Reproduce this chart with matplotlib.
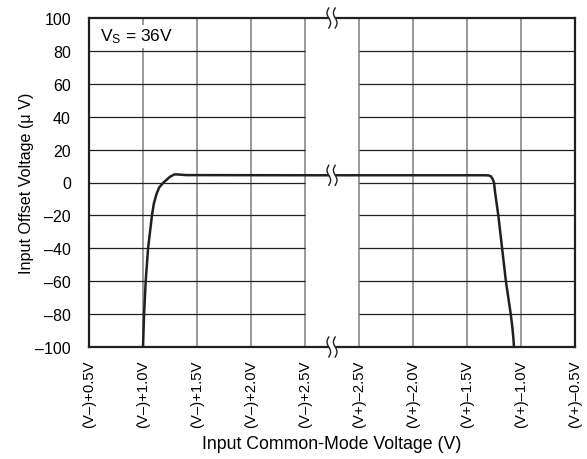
import numpy as np
import matplotlib
matplotlib.use("Agg")
import matplotlib.pyplot as plt

plt.rcParams["font.family"] = ["Liberation Sans", "DejaVu Sans"]
plt.rcParams["mathtext.fontset"] = "custom"
plt.rcParams["mathtext.rm"] = "Liberation Sans"
plt.rcParams["mathtext.it"] = "Liberation Sans"

# ── Data ───────────────────────────────────────────────────────────────────
# left half of the axis: input = (V-) + v ; right half: input = (V+) - v
LEFT_TICKS  = [0.5, 1.0, 1.5, 2.0, 2.5]
RIGHT_TICKS = [2.5, 2.0, 1.5, 1.0, 0.5]
LEFT_LABELS  = ["(V\u2013)+0.5V", "(V\u2013)+1.0V", "(V\u2013)+1.5V",
                "(V\u2013)+2.0V", "(V\u2013)+2.5V"]
RIGHT_LABELS = ["(V+)\u20132.5V", "(V+)\u20132.0V", "(V+)\u20131.5V",
                "(V+)\u20131.0V", "(V+)\u20130.5V"]

LEFT_V = [1.00, 1.01, 1.025, 1.047, 1.065, 1.083, 1.10, 1.125, 1.15, 1.19,
          1.25, 1.29, 1.32, 1.40, 2.5]
LEFT_Y = [-100, -80, -60, -40, -30, -20, -13, -7, -3, 0,
          3.5, 4.9, 4.9, 4.5, 4.4]

RIGHT_V = [2.5, 1.34, 1.30, 1.28, 1.265, 1.25, 1.24, 1.21, 1.175, 1.14,
           1.095, 1.08, 1.07, 1.065]
RIGHT_Y = [4.4, 4.4, 4.3, 3.8, 2.5, 0, -6, -20, -40, -60,
           -80, -88, -95, -100]

Y_TICKS = [-100, -80, -60, -40, -20, 0, 20, 40, 60, 80, 100]

# ── Broken axis mapping: each 0.5 V step = 1 unit, gap of 1 unit ─────────
def left_pos(v):
    return (np.asarray(v) - 0.5) / 0.5

def right_pos(v):
    return 5 + (2.5 - np.asarray(v)) / 0.5

fig = plt.figure(figsize=(5.87, 4.60), dpi=100)
ax = fig.add_axes([89 / 587, 1 - 348 / 460, 486 / 587, 329 / 460])
ax.set_xlim(0, 9)
ax.set_ylim(-100, 100)

GRID_V = "#808080"
GRID_H = "#231f20"
INK = "#231f20"

xticks = list(left_pos(LEFT_TICKS)) + list(right_pos(RIGHT_TICKS))
for xp in xticks[1:-1]:
    ax.axvline(xp, color=GRID_V, lw=1.1, zorder=1)
for yv in Y_TICKS[1:-1]:
    ax.hlines(yv, 0, 4, color=GRID_H, lw=0.9, zorder=1)
    ax.hlines(yv, 5, 9, color=GRID_H, lw=0.9, zorder=1)

xs = np.concatenate([left_pos(LEFT_V), right_pos(RIGHT_V)])
ys = np.concatenate([LEFT_Y, RIGHT_Y])
ax.plot(xs, ys, color=INK, lw=1.8, solid_joinstyle="round", zorder=3)

# break marks (two small squiggles) at top, curve and bottom
px_x = 9 / 486.0
px_y = 200 / 329.0
t = np.linspace(-1, 1, 40)
for y0 in [100, 4.4, -100]:
    sx1 = 4.5 - 3.2 * px_x + 1.8 * px_x * np.sin(np.pi * t)
    sx2 = 4.5 + 3.2 * px_x + 1.8 * px_x * np.sin(np.pi * t)
    sy = y0 - 10 * px_y * t
    ax.fill_betweenx(sy, sx1, sx2, color="white", lw=0, zorder=5,
                     clip_on=False)
    ax.plot(sx1, sy, color=INK, lw=1.0, zorder=6, clip_on=False)
    ax.plot(sx2, sy, color=INK, lw=1.0, zorder=6, clip_on=False)

for s in ax.spines.values():
    s.set_linewidth(1.6)
    s.set_color(INK)
    s.set_zorder(4)

ax.set_xticks(xticks)
ax.set_xticklabels(LEFT_LABELS + RIGHT_LABELS, rotation=90, va="top",
                   ha="center")
ax.set_yticks(Y_TICKS)
ax.set_yticklabels([str(v).replace("-", "\u2013") for v in Y_TICKS])
ax.tick_params(axis="both", length=0, colors="black")
ax.tick_params(axis="y", pad=13, labelsize=11.5)
ax.tick_params(axis="x", pad=9, labelsize=10.7)

ax.set_xlabel("Input Common-Mode Voltage (V)", fontsize=12.8, labelpad=6)
ax.set_ylabel("Input Offset Voltage (\u03bc V)", fontsize=11.6, labelpad=1)

ax.text(0.2, 89, "V$_\\mathregular{S}$ = 36V", fontsize=12.5, va="center",
        ha="left", zorder=7,
        bbox=dict(facecolor="white", edgecolor="none", pad=1.5))

fig.savefig("out.png", dpi=100)
